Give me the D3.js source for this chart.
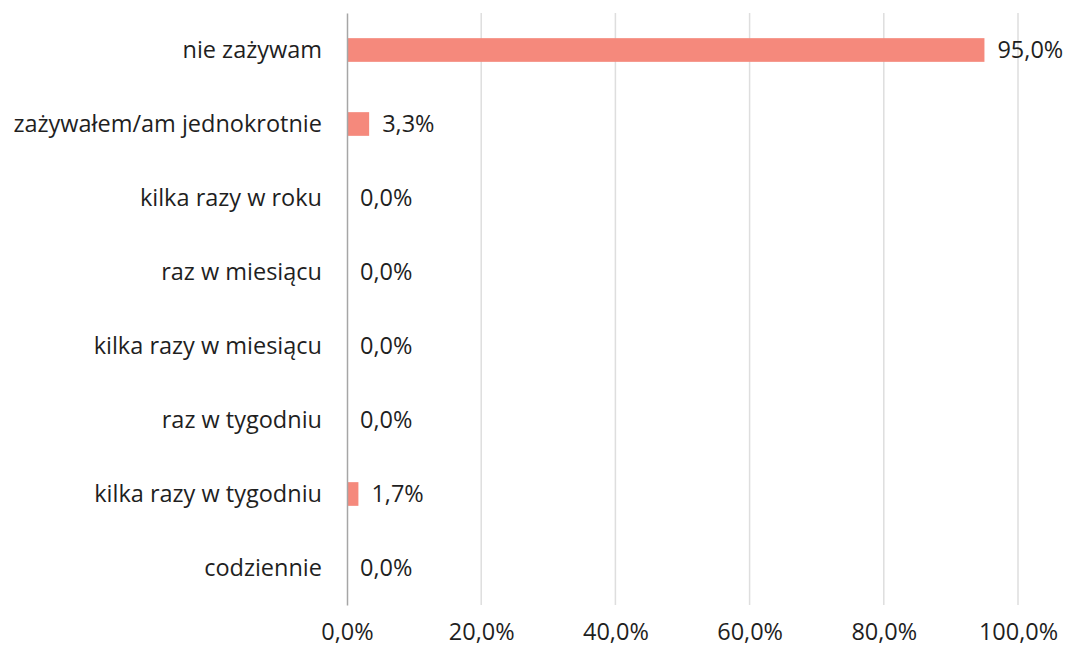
<!DOCTYPE html>
<html>
<head>
<meta charset="utf-8">
<script src="https://cdn.jsdelivr.net/npm/d3@7"></script>
<style>
  body { margin: 0; background: #fff; }
  text { font-family: "Open Sans", "DejaVu Sans", sans-serif; fill: #1f1f1f; }
</style>
</head>
<body>
<script>
const categories = [
  "nie zażywam",
  "zażywałem/am jednokrotnie",
  "kilka razy w roku",
  "raz w miesiącu",
  "kilka razy w miesiącu",
  "raz w tygodniu",
  "kilka razy w tygodniu",
  "codziennie"
]
const values = [95.0, 3.3, 0.0, 0.0, 0.0, 0.0, 1.7, 0.0]
const ticks = [0, 20, 40, 60, 80, 100]

const width = 1072, height = 649
const margin = {top: 13, right: 54, bottom: 44, left: 347}
const fontSize = 23.5

const fmt = v => v.toFixed(1).replace(".", ",") + "%"

const svg = d3.select("body").append("svg")
  .attr("width", width).attr("height", height)

const x = d3.scaleLinear()
  .domain([0, 100])
  .range([margin.left, width - margin.right])

const y = d3.scaleBand()
  .domain(categories)
  .range([margin.top, height - margin.bottom])
  .paddingInner(0.68).paddingOuter(0.34)

// gridlines
svg.append("g")
  .selectAll("line").data(ticks.slice(1)).join("line")
  .attr("x1", d => x(d)).attr("x2", d => x(d))
  .attr("y1", margin.top).attr("y2", height - margin.bottom)
  .attr("stroke", "#dedede").attr("stroke-width", 1.5)

// bars
svg.append("g")
  .selectAll("rect").data(values).join("rect")
  .attr("x", x(0))
  .attr("y", (d, i) => y(categories[i]))
  .attr("width", d => x(d) - x(0))
  .attr("height", y.bandwidth())
  .attr("fill", "#f5897c")

// value labels
svg.append("g")
  .selectAll("text").data(values).join("text")
  .attr("x", d => x(d) + 13)
  .attr("y", (d, i) => y(categories[i]) + y.bandwidth() / 2)
  .attr("dy", "0.36em")
  .attr("font-size", fontSize)
  .text(d => fmt(d))

// left axis
const yAxis = svg.append("g")
  .attr("transform", `translate(${x(0)},0)`)
  .call(d3.axisLeft(y).tickSize(0).tickPadding(25))
yAxis.select(".domain").attr("stroke", "#a6a6a6").attr("stroke-width", 1.5)
yAxis.selectAll("text").attr("font-size", fontSize).attr("fill", "#1f1f1f")

// bottom axis
const xAxis = svg.append("g")
  .attr("transform", `translate(0,${height - margin.bottom})`)
  .call(d3.axisBottom(x).tickValues(ticks).tickSize(0).tickPadding(18).tickFormat(fmt))
xAxis.select(".domain").remove()
xAxis.selectAll("text").attr("font-size", fontSize).attr("fill", "#1f1f1f")
</script>
</body>
</html>
